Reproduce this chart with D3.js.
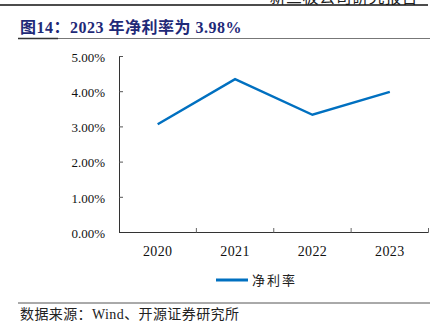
<!DOCTYPE html>
<html>
<head>
<meta charset="utf-8">
<script src="https://cdn.jsdelivr.net/npm/d3@7"></script>
<style>
  html, body { margin: 0; padding: 0; background: #fff; }
  svg { display: block; }
</style>
</head>
<body>
<svg id="chart" width="443" height="329"></svg>
<script>
// Net margin by year
const years = ["2020", "2021", "2022", "2023"];
const netMargin = [3.06, 4.34, 3.33, 3.98];
const yTicks = [0, 1, 2, 3, 4, 5];
const seriesName = "净利率";
const titleText = "图14：2023 年净利率为 3.98%";
const sourceText = "数据来源：Wind、开源证券研究所";
const headerText = "新三板公司研究报告";

const svg = d3.select("#chart");
const serif = "'Liberation Serif', 'Times New Roman', 'Noto Sans CJK SC', serif";
const lineColor = "#0070C0";

// Running page header; its upper half runs past the top edge
svg.append("text")
  .attr("x", 418).attr("y", 2.5)
  .attr("text-anchor", "end")
  .attr("font-family", serif).attr("font-size", 16)
  .attr("fill", "#222").attr("letter-spacing", 0.5)
  .text(headerText);
svg.append("line")
  .attr("x1", 0).attr("x2", 428).attr("y1", 5).attr("y2", 5)
  .attr("stroke", "#111").attr("stroke-width", 1.5);

// Title
svg.append("text")
  .attr("x", 20).attr("y", 32.5)
  .attr("font-family", serif).attr("font-size", 16).attr("font-weight", "bold")
  .attr("fill", "#1F2A78").attr("letter-spacing", 0.5)
  .text(titleText);
svg.append("line")
  .attr("x1", 18).attr("x2", 430).attr("y1", 38.5).attr("y2", 38.5)
  .attr("stroke", "#777").attr("stroke-width", 1);
svg.append("line")
  .attr("x1", 18).attr("x2", 58).attr("y1", 38.5).attr("y2", 38.5)
  .attr("stroke", "#333").attr("stroke-width", 1.5);

// Plot area
const plotLeft = 119, plotRight = 428.5, plotTop = 56, plotBottom = 232;
const x = d3.scaleBand().domain(years).range([plotLeft, plotRight]);
const y = d3.scaleLinear().domain([0, 5]).range([plotBottom, plotTop]);

const g = svg.append("g");

// Y axis
const yAxis = g.append("g").attr("transform", `translate(${plotLeft},0)`)
  .call(d3.axisLeft(y).tickValues(yTicks).tickSize(-4)
    .tickFormat(d => d.toFixed(2) + "%"));
yAxis.select(".domain").attr("stroke", "#333").attr("stroke-width", 1);
yAxis.selectAll(".tick line").attr("stroke", "#555");
yAxis.selectAll(".tick text")
  .attr("font-family", serif).attr("font-size", 13).attr("fill", "#111")
  .attr("x", -14).attr("dy", "0.4em");

// X axis with boundary ticks between categories
const xAxis = g.append("g").attr("transform", `translate(0,${plotBottom})`);
xAxis.append("line")
  .attr("x1", plotLeft).attr("x2", plotRight).attr("y1", 0.5).attr("y2", 0.5)
  .attr("stroke", "#333").attr("stroke-width", 1);
const bounds = years.map(d => x(d)).concat([plotRight]);
xAxis.selectAll("line.bt").data(bounds.slice(1)).join("line")
  .attr("class", "bt")
  .attr("x1", d => d).attr("x2", d => d).attr("y1", 0.5).attr("y2", -4)
  .attr("stroke", "#666").attr("stroke-width", 1);
xAxis.selectAll("text").data(years).join("text")
  .attr("x", d => x(d) + x.bandwidth() / 2).attr("y", 23.5)
  .attr("text-anchor", "middle")
  .attr("font-family", serif).attr("font-size", 14).attr("fill", "#111")
  .attr("letter-spacing", 0.4)
  .text(d => d);

// Series line
const line = d3.line()
  .x((d, i) => x(years[i]) + x.bandwidth() / 2)
  .y(d => y(d));
g.append("path")
  .datum(netMargin)
  .attr("d", line)
  .attr("fill", "none")
  .attr("stroke", lineColor).attr("stroke-width", 2.5)
  .attr("stroke-linejoin", "miter");

// Legend
svg.append("line")
  .attr("x1", 216).attr("x2", 248).attr("y1", 280).attr("y2", 280)
  .attr("stroke", lineColor).attr("stroke-width", 3);
svg.append("text")
  .attr("x", 252).attr("y", 285)
  .attr("font-family", serif).attr("font-size", 13).attr("fill", "#222")
  .attr("letter-spacing", 2)
  .text(seriesName);

// Source note
svg.append("line")
  .attr("x1", 18).attr("x2", 430).attr("y1", 303).attr("y2", 303)
  .attr("stroke", "#555").attr("stroke-width", 1);
svg.append("text")
  .attr("x", 20).attr("y", 318.5)
  .attr("font-family", serif).attr("font-size", 14).attr("fill", "#222")
  .attr("letter-spacing", 0.4)
  .text(sourceText);
</script>
</body>
</html>
